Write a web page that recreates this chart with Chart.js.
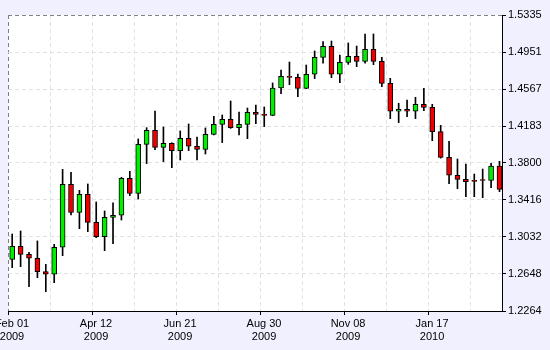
<!DOCTYPE html>
<html>
<head>
<meta charset="utf-8">
<script src="https://cdn.jsdelivr.net/npm/chart.js@4.4.0/dist/chart.umd.min.js"></script>
<style>
  html, body { margin: 0; padding: 0; background: #f0f0ff; }
</style>
</head>
<body>
<canvas id="candleChart" width="550" height="350"></canvas>
<script>
// weekly candles, one per week starting Feb 01 2009
const opens = [
  1.2800, 1.2935, 1.2852, 1.2811, 1.2672, 1.2645, 1.2925, 1.3578, 1.3288, 1.3475,
  1.3184, 1.3035, 1.3236, 1.3257, 1.3641, 1.3485, 1.3993, 1.4139, 1.3962, 1.4004,
  1.3928, 1.4056, 1.3973, 1.3941, 1.4097, 1.4201, 1.4253, 1.4166, 1.4201, 1.4325,
  1.4304, 1.4294, 1.4578, 1.4699, 1.4688, 1.4574, 1.4720, 1.4896, 1.5010, 1.4720,
  1.4844, 1.4906, 1.4854, 1.4979, 1.4854, 1.4626, 1.4336, 1.4356, 1.4336, 1.4408,
  1.4377, 1.4125, 1.3858, 1.3672, 1.3630, 1.3620, 1.3622, 1.3620, 1.3768
];
const highs = [
  1.3063, 1.3094, 1.2873, 1.2991, 1.2748, 1.2956, 1.3734, 1.3703, 1.3516, 1.3582,
  1.3395, 1.3302, 1.3385, 1.3650, 1.3713, 1.4049, 1.4166, 1.4339, 1.4173, 1.4010,
  1.4132, 1.4204, 1.4069, 1.4163, 1.4284, 1.4298, 1.4443, 1.4329, 1.4370, 1.4401,
  1.4381, 1.4630, 1.4764, 1.4847, 1.4723, 1.4816, 1.4962, 1.5058, 1.5065, 1.4920,
  1.5045, 1.5013, 1.5138, 1.5138, 1.4896, 1.4678, 1.4419, 1.4453, 1.4481, 1.4574,
  1.4408, 1.4190, 1.4024, 1.3841, 1.3789, 1.3685, 1.3737, 1.3796, 1.3817
];
const lows = [
  1.2714, 1.2724, 1.2517, 1.2610, 1.2465, 1.2558, 1.2838, 1.3260, 1.3118, 1.3087,
  1.3025, 1.2890, 1.2963, 1.3208, 1.3461, 1.3426, 1.3793, 1.3938, 1.3814, 1.3751,
  1.3831, 1.3928, 1.3831, 1.3893, 1.4090, 1.4011, 1.4159, 1.4090, 1.4052, 1.4208,
  1.4177, 1.4290, 1.4519, 1.4612, 1.4488, 1.4571, 1.4675, 1.4834, 1.4685, 1.4633,
  1.4823, 1.4799, 1.4834, 1.4820, 1.4592, 1.4260, 1.4218, 1.4280, 1.4260, 1.4342,
  1.4031, 1.3850, 1.3585, 1.3533, 1.3450, 1.3450, 1.3440, 1.3544, 1.3502
];
const closes = [
  1.2935, 1.2852, 1.2811, 1.2672, 1.2645, 1.2925, 1.3578, 1.3288, 1.3475, 1.3184,
  1.3035, 1.3236, 1.3257, 1.3641, 1.3485, 1.3993, 1.4139, 1.3962, 1.4004, 1.3928,
  1.4056, 1.3973, 1.3941, 1.4097, 1.4201, 1.4253, 1.4166, 1.4201, 1.4325, 1.4304,
  1.4294, 1.4578, 1.4699, 1.4688, 1.4574, 1.4720, 1.4896, 1.5010, 1.4720, 1.4844,
  1.4906, 1.4854, 1.4979, 1.4854, 1.4626, 1.4336, 1.4356, 1.4336, 1.4408, 1.4377,
  1.4125, 1.3858, 1.3672, 1.3630, 1.3606, 1.3609, 1.3618, 1.3768, 1.3526
];
const dateLabels = ['Feb 01', 'Apr 12', 'Jun 21', 'Aug 30', 'Nov 08', 'Jan 17'];
const yearLabels = ['2009', '2009', '2009', '2009', '2009', '2010'];
const priceTicks = ['1.2264', '1.2648', '1.3032', '1.3416', '1.3800', '1.4183', '1.4567', '1.4951', '1.5335'];

const gridWeeks = [0, 5, 10, 15, 20, 25, 30, 35, 40, 45, 50, 55];
const weekPos = opens.map((o, i) => i + 0.5); // candle sits mid-week
const bodyColors = opens.map((o, i) => closes[i] >= o ? '#00ee00' : '#ee0000');
const axisFont = { family: 'Liberation Sans', size: 11 };

// white plot area on the lavender page
const plotBackground = {
    id: 'plotBackground',
    beforeDraw(chart) {
        const { ctx, chartArea: a } = chart;
        ctx.save();
        ctx.fillStyle = '#ffffff';
        ctx.fillRect(a.left, a.top, a.right - a.left, a.bottom - a.top);
        ctx.restore();
    }
};

const ctx = document.getElementById('candleChart').getContext('2d');
const candleChart = new Chart(ctx, {
    type: 'bar',
    data: {
        datasets: [{
            label: 'Body',
            data: weekPos.map((x, i) => ({ x: x, y: [Math.min(opens[i], closes[i]), Math.max(opens[i], closes[i])] })),
            backgroundColor: bodyColors,
            borderColor: '#000000',
            borderWidth: 1,
            borderSkipped: false,
            barThickness: 5,
            minBarLength: 1,
            grouped: false,
            order: 0
        }, {
            label: 'Range',
            data: weekPos.map((x, i) => ({ x: x, y: [lows[i], highs[i]] })),
            backgroundColor: '#000000',
            barThickness: 1,
            grouped: false,
            order: 1
        }]
    },
    options: {
        responsive: false,
        animation: false,
        layout: { padding: { left: 8, top: 15, right: 0, bottom: 0 } },
        plugins: {
            legend: { display: false },
            tooltip: { enabled: false }
        },
        scales: {
            x: {
                type: 'linear',
                min: 0,
                max: 58.8,
                offset: false,
                afterBuildTicks: s => { s.ticks = gridWeeks.map(v => ({ value: v })); },
                afterFit: s => { s.height = 39; s.paddingLeft = 0; s.paddingRight = 0; },
                grid: {
                    offset: false,
                    color: c => (c.tick && c.tick.value === 0) ? '#808080' : '#e2e2e2',
                    tickColor: c => (c.tick && c.tick.value % 10 === 0) ? '#000000' : 'rgba(0,0,0,0)',
                    tickLength: 4
                },
                border: { color: '#000000', width: 1, dash: [4, 3] },
                ticks: {
                    autoSkip: false,
                    maxRotation: 0,
                    labelOffset: 4,
                    padding: 2,
                    color: '#000000',
                    font: axisFont,
                    callback: v => {
                        const k = v / 10;
                        return Number.isInteger(k) && k < dateLabels.length ? [dateLabels[k], yearLabels[k]] : '';
                    }
                }
            },
            y: {
                position: 'right',
                min: 1.2264,
                max: 1.5335,
                afterBuildTicks: s => { s.ticks = priceTicks.map(t => ({ value: parseFloat(t) })); },
                afterFit: s => { s.width = 48; },
                grid: {
                    color: c => c.index === priceTicks.length - 1 ? '#808080' : '#e2e2e2',
                    tickColor: '#000000',
                    tickLength: 4
                },
                border: { color: '#000000', width: 1, dash: [4, 3] },
                ticks: {
                    padding: 2,
                    color: '#000000',
                    font: axisFont,
                    callback: (v, i) => priceTicks[i]
                }
            }
        }
    },
    plugins: [plotBackground]
});
</script>
</body>
</html>
